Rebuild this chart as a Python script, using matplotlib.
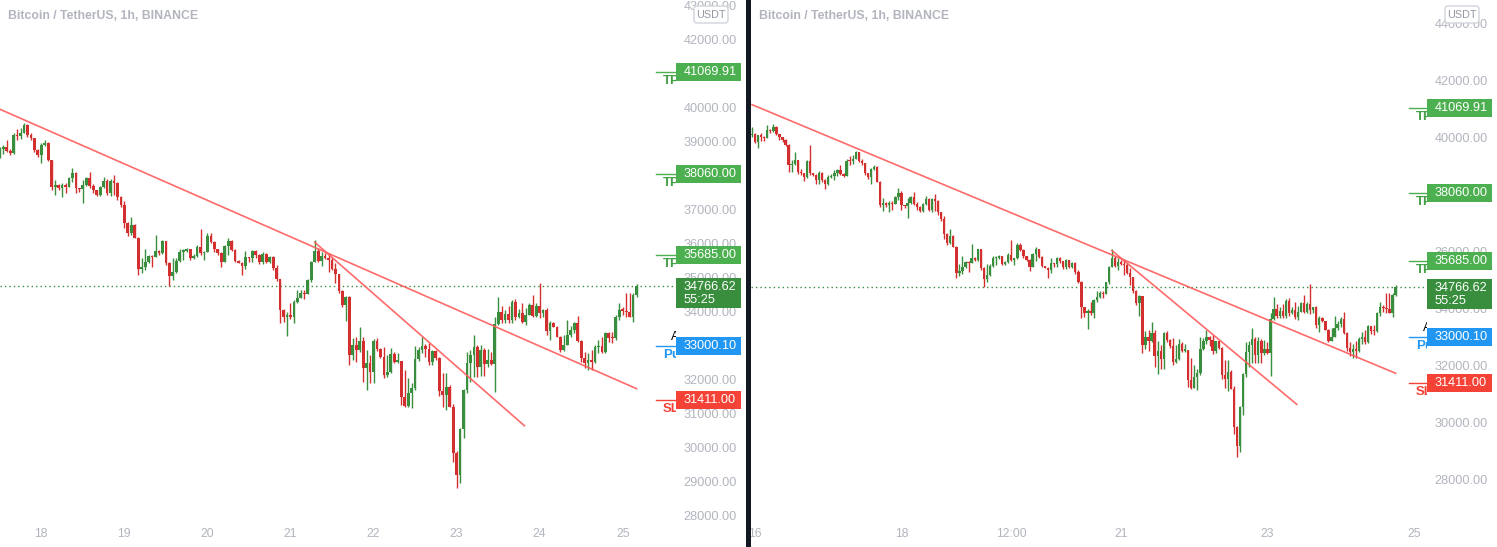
import numpy as np
import matplotlib
matplotlib.use("Agg")
import matplotlib.pyplot as plt
from matplotlib.patches import Rectangle, FancyBboxPatch
import matplotlib.transforms as mtrans

# ---------------- data (hourly candles, index = hour) ----------------
title = "Bitcoin / TetherUS, 1h, BINANCE"
first_open = 40090
close = [
    40140, 39870, 40110, 40030, 40000, 40280, 40230, 40390, 40130, 40020,
    39930, 39750, 39050, 39080, 39230, 38800, 38760, 38640, 39200, 38760,
    38700, 38530, 38760, 38530, 38380, 38640, 38680, 38780, 38860, 38745,
    38670, 39206, 39180, 39275, 39500, 39206, 39108, 38765, 38618, 38912,
    38980, 38470, 37666, 37735, 37637, 37735, 37686, 37931, 38078, 37637,
    37608, 37735, 37931, 37700, 37588, 37441, 37686, 37862, 37490, 37862,
    37804, 37392, 37147, 36630, 36313, 36558, 36186, 35254, 35333, 35480,
    35647, 35608, 35794, 35725, 36088, 35451, 35058, 35186, 35500, 35774,
    35794, 35843, 35578, 35657, 35902, 35725, 35774, 36235, 36068, 35843,
    35725, 35480, 35941, 36088, 35823, 35510, 35451, 35353, 35608, 35578,
    35794, 35676, 35480, 35720, 35481, 35628, 35285, 34961, 34059, 33843,
    33912, 33843, 34304, 34422, 34569, 34530, 34941, 35481, 35804, 35510,
    35647, 35579, 35530, 35255, 35108, 34628, 34206, 34451, 32736, 33030,
    32883, 33147, 32343, 32510, 32245, 33147, 32902, 32687, 32147, 32245,
    32765, 32539, 32570, 31510, 31235, 31608, 31755, 32608, 32882, 33000,
    32902, 32539, 32863, 32637, 31686, 31559, 31804, 31196, 29862, 29206,
    30549, 31706, 32490, 32735, 32960, 32392, 32882, 32470, 32588, 32470,
    33647, 33990, 33764, 33931, 33764, 34284, 33862, 33960, 33715, 33911,
    34206, 33892, 34176, 33960, 34059, 33451, 33686, 33568, 33274, 32882,
    33029, 33323, 33470, 33666, 33157, 32637, 32490, 32588, 32539, 32960,
    33000, 32833, 33392, 33245, 33225, 33862, 34059, 34039, 33990, 33862,
    34500, 34767,
]
high = [
    40390, 40160, 40120, 40190, 40060, 40450, 40330, 40500, 40420, 40150,
    40050, 39960, 39800, 39230, 39510, 39230, 38900, 38780, 39230, 39750,
    38780, 38750, 38850, 38800, 38560, 38700, 38720, 38860, 38900, 39060,
    38780, 39250, 39380, 39400, 39560, 39520, 39250, 39110, 38780, 38960,
    39050, 39000, 38480, 37880, 37760, 37800, 37790, 37960, 38230, 38130,
    37660, 37880, 37980, 38120, 37750, 37600, 37720, 37980, 37900, 37900,
    38030, 37830, 37420, 37250, 36660, 36800, 36590, 36200, 35578, 35853,
    35676, 35680, 36264, 35820, 36120, 36100, 35480, 35578, 35578, 35853,
    35843, 35883, 35850, 35700, 35970, 36431, 35800, 36313, 36313, 36100,
    35860, 35750, 35970, 36166, 36117, 35850, 35520, 35460, 35793, 35620,
    35820, 35820, 35700, 35760, 35726, 35647, 35640, 35383, 34970, 34080,
    34010, 34255, 34340, 34647, 34647, 34647, 34961, 35510, 36118, 35873,
    35775, 35726, 35726, 35627, 35432, 35120, 34650, 34480, 34470, 33226,
    33275, 33549, 33275, 32883, 32736, 33200, 33226, 32932, 32980, 32736,
    32932, 32834, 32785, 32570, 32294, 32049, 31902, 33000, 32980, 33274,
    33050, 33078, 32882, 32882, 32680, 32215, 32215, 31853, 31294, 29900,
    30600, 31740, 32833, 32882, 33323, 33030, 33030, 32930, 32902, 32833,
    33862, 34431, 34176, 34059, 34176, 34353, 34372, 34078, 34255, 34108,
    34255, 34500, 34255, 34862, 34078, 34108, 33745, 33715, 33588, 33294,
    33323, 33764, 33588, 33715, 33882, 33176, 32833, 32784, 32882, 33029,
    33176, 33274, 33421, 33402, 33421, 33911, 34255, 34137, 34549, 34570,
    34549, 34830,
]
low = [
    40040, 39840, 39640, 39880, 39880, 39990, 40170, 40200, 40100, 39930,
    39860, 39720, 38800, 38800, 39050, 38750, 38700, 38500, 38600, 38700,
    38650, 38400, 38370, 38450, 38200, 38350, 38600, 38520, 38650, 38710,
    38620, 38650, 39060, 39100, 39250, 39150, 39050, 38700, 38570, 38370,
    38880, 38440, 37590, 37440, 37590, 37390, 37490, 37680, 37830, 37490,
    37540, 37200, 37700, 37650, 37490, 37400, 37410, 37660, 37430, 37420,
    37440, 37300, 37100, 36460, 36235, 36265, 36166, 35088, 35156, 35235,
    35450, 35313, 35608, 35690, 35700, 35382, 34764, 34941, 35150, 35480,
    35529, 35760, 35529, 35560, 35627, 35690, 35529, 35750, 36030, 35774,
    35690, 35333, 35460, 35676, 35800, 35480, 35431, 35098, 35255, 35480,
    35480, 35600, 35400, 35420, 35450, 35451, 35236, 34900, 33687, 33716,
    33294, 33800, 33687, 34255, 34400, 34382, 34520, 34892, 35460, 35480,
    35363, 35550, 35186, 35236, 34843, 34550, 34137, 33745, 32441, 32589,
    32540, 32833, 31951, 31706, 31902, 31902, 32850, 32638, 32049, 32098,
    32196, 32500, 32490, 31265, 31200, 31220, 31166, 31700, 32550, 32784,
    32686, 32431, 32441, 32588, 31529, 31216, 31118, 31196, 29598, 28814,
    28980, 30284, 31608, 31950, 32098, 32098, 32117, 32117, 32392, 32430,
    31656, 33617, 33686, 33686, 33667, 33667, 33764, 33813, 33666, 33617,
    33911, 33862, 33862, 33813, 33862, 33323, 33176, 33549, 33274, 32833,
    32862, 33029, 33274, 33372, 33127, 32539, 32343, 32294, 32294, 32490,
    32784, 32784, 32804, 33127, 33098, 33176, 33764, 33911, 33862, 33843,
    33715, 34450,
]

last_price = 34766.62
countdown = "55:25"
order_levels = [41069.91, 38060.00, 35685.00, 33000.10, 31411.00]
order_tags = ["TP", "TP", "TP", "Pu", "SL"]
order_kinds = ["tp", "tp", "tp", "entry", "sl"]

# trend lines: (hour index, price) end points
trend_a_x = [0, 211]
trend_a_y = [41170, 31745]
trend_b_x = [118, 178.6]
trend_b_y = [36050, 30655]

left_day_labels = ["18", "19", "20", "21", "22", "23", "24", "25"]
left_day_hours = [39, 63, 87, 111, 135, 159, 183, 207]
right_day_labels = ["16", "18", "12:00", "21", "23", "25"]
right_day_hours = [1, 49, 85, 121, 169, 217]

# ---------------- style ----------------
W, H = 1497, 547
DPI = 100
FONT = ["Liberation Sans", "DejaVu Sans"]
GRAY = "#b2b5be"
UP = "#388e3c"
DOWN = "#d32f2f"
KIND_COL = {"tp": "#4caf50", "entry": "#2196f3", "sl": "#f44336"}
TAG_COL = {"tp": "#43a047", "entry": "#2196f3", "sl": "#f44336"}
TREND = "#ff5a5a"

plt.rcParams["font.family"] = FONT
fig = plt.figure(figsize=(W / DPI, H / DPI), dpi=DPI, facecolor="white")


def px_axes(x0, x1, y0, y1):
    return fig.add_axes([x0 / W, 1 - y1 / H, (x1 - x0) / W, (y1 - y0) / H])


PANE_BOTTOM = 520
panels = [
    dict(x0=0, x1=676, sx1=745, xlim=(27.06, 222.4), ylim=(27882, 43176),
         yticks=np.arange(28000, 43001, 1000), xt=left_day_hours, xl=left_day_labels,
         width=0.8, tag_frac=663 / 676, line_frac=656 / 676, alert_frac=671 / 676,
         title_x=8, badge_x=694),
    dict(x0=751, x1=1427, sx1=1497, xlim=(-0.33, 221.3), ylim=(26596, 44842),
         yticks=np.arange(28000, 44001, 2000), xt=right_day_hours, xl=right_day_labels,
         width=0.76, tag_frac=(1416 - 751) / 676, line_frac=(1409 - 751) / 676,
         alert_frac=(1423 - 751) / 676, title_x=759, badge_x=1445),
]

c = np.array(close, dtype=float)
o = np.concatenate([[first_open], c[:-1]])
hi = np.array(high, dtype=float)
lo = np.array(low, dtype=float)
xs = np.arange(len(c))
cols = np.where(c >= o, UP, DOWN)

for P in panels:
    ax = px_axes(P["x0"], P["x1"], 0, PANE_BOTTOM)
    ax.set_xlim(*P["xlim"])
    ax.set_ylim(*P["ylim"])
    ppu = PANE_BOTTOM / (P["ylim"][1] - P["ylim"][0])  # pixels per price unit
    for s in ax.spines.values():
        s.set_visible(False)

    # candles
    ax.vlines(xs, lo, hi, colors=cols, linewidth=1.0, zorder=3)
    body_lo = np.minimum(o, c)
    body_h = np.maximum(np.abs(c - o), 1.2 / ppu)
    ax.bar(xs, body_h, bottom=body_lo, width=P["width"], color=cols, linewidth=0, zorder=4)

    # trend lines
    ax.plot(trend_a_x, trend_a_y, color=TREND, alpha=0.9, lw=1.2, zorder=5)
    ax.plot(trend_b_x, trend_b_y, color=TREND, alpha=0.9, lw=1.2, zorder=5)

    # last price dotted line
    ax.axhline(last_price, color=UP, lw=1.0, ls=(0, (1, 2.2)), zorder=2)

    # order lines + clipped tags
    ytr = ax.get_yaxis_transform()
    for lev, tag, kind in zip(order_levels, order_tags, order_kinds):
        ax.plot([P["line_frac"], 1.0], [lev, lev], transform=ytr, color=KIND_COL[kind],
                lw=1.0, clip_on=False, zorder=6)
        ax.text(P["tag_frac"], lev - 3 / ppu, tag, transform=ytr, color=TAG_COL[kind],
                fontsize=9.5, fontweight="bold", va="top", ha="left", clip_on=True, zorder=6)
    ax.text(P["alert_frac"], order_levels[3] + 3 / ppu, "A", transform=ytr, color="black",
            fontsize=9, va="bottom", ha="left", clip_on=True, zorder=6)

    # axes ticks
    ax.yaxis.tick_right()
    ax.set_yticks(P["yticks"])
    ax.set_yticklabels([f"{v:.2f}" for v in P["yticks"]])
    ax.tick_params(axis="y", length=0, pad=5.5, labelsize=9.2, labelcolor=GRAY)
    ax.set_xticks(P["xt"])
    ax.set_xticklabels(P["xl"])
    ax.tick_params(axis="x", length=0, pad=5.5, labelsize=8.8, labelcolor=GRAY)

    # price scale overlay with labels
    sw = P["sx1"] - P["x1"]
    sax = px_axes(P["x1"], P["sx1"], 0, PANE_BOTTOM)
    sax.set_xlim(0, sw)
    sax.set_ylim(*P["ylim"])
    sax.axis("off")
    for lev, kind in zip(order_levels, order_kinds):
        hgt = 18 / ppu
        sax.add_patch(Rectangle((0, lev - hgt / 2), 65, hgt, color=KIND_COL[kind], lw=0, zorder=3))
        sax.text(7.5, lev, f"{lev:.2f}", color="white", fontsize=9.2, va="center", ha="left",
                 zorder=4)
    top = last_price + 8 / ppu
    sax.add_patch(Rectangle((0, top - 30 / ppu), 65, 30 / ppu, color=UP, lw=0, zorder=3))
    sax.text(7.5, last_price - 1 / ppu, f"{last_price:.2f}", color="white", fontsize=9.2,
             va="center", ha="left", zorder=4)
    sax.text(7.5, last_price - 14 / ppu, countdown, color="white", fontsize=9.2,
             va="center", ha="left", zorder=4)

    # USDT badge
    bx = P["badge_x"]
    fig.add_artist(FancyBboxPatch((bx, H - 23), 34, 17, boxstyle="round,pad=0,rounding_size=3",
                                  transform=mtrans.IdentityTransform(), facecolor="white",
                                  edgecolor="#d1d4dc", lw=1, zorder=5))
    fig.text((bx + 17) / W, 1 - 14.5 / H, "USDT", color="#9598a1", fontsize=7.8,
             ha="center", va="center", zorder=6)

    # title
    fig.text(P["title_x"] / W, 1 - 16 / H, title, color=GRAY, fontsize=8.8, fontweight="bold",
             ha="left", va="center")

# divider between the two charts
fig.add_artist(Rectangle((745.5, 0), 5.5, H, transform=mtrans.IdentityTransform(),
                         facecolor="#131722", edgecolor="none", zorder=10))

fig.savefig("out.png", dpi=DPI, facecolor="white")
